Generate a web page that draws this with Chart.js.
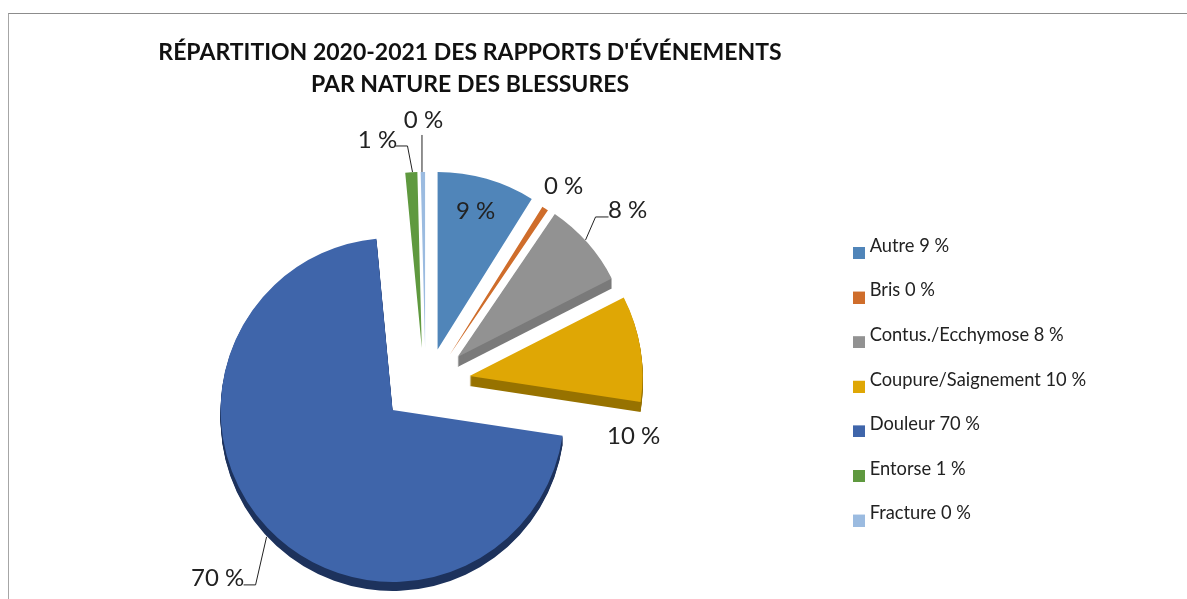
<!DOCTYPE html>
<html lang="fr">
<head>
<meta charset="utf-8">
<title>Répartition 2020-2021</title>
<script src="https://cdn.jsdelivr.net/npm/chart.js@4"></script>
<style>
  html, body { margin: 0; padding: 0; background: #fff; overflow: hidden; }
  #frame { position: absolute; left: 8px; top: 13px; right: 0; bottom: 0;
           border-top: 1px solid #8c8c8c; border-left: 1px solid #a6a6a6; }
  #chart { position: absolute; left: 0; top: 0; }
</style>
</head>
<body>
<div id="frame"></div>
<canvas id="chart" width="1187" height="599"></canvas>
<script>
// ─── Data ───────────────────────────────────────────────────────────────────
const TITLE_LINES = ["RÉPARTITION 2020-2021 DES RAPPORTS D'ÉVÉNEMENTS", 'PAR NATURE DES BLESSURES'];
const CATEGORIES = ['Autre', 'Bris', 'Contus./Ecchymose', 'Coupure/Saignement', 'Douleur', 'Entorse', 'Fracture'];
const VALUES = [8.9, 0.6, 8, 9.9, 71.1, 1.1, 0.4];
const PCT_LABELS = ['9 %', '0 %', '8 %', '10 %', '70 %', '1 %', '0 %'];

// ─── Styling ────────────────────────────────────────────────────────────────
const FACE_COLORS = ['#5085b9', '#cf6d2b', '#929292', '#dfa705', '#3f65aa', '#5f993f', '#9bbbe0'];
const SIDE_COLORS = ['#3c6690', '#9c5220', '#7a7a7a', '#977200', '#1d325c', '#45702e', '#7692b2'];
// How far each slice is pulled out of the pie [dx, dy], and its radius:
// the 3D projection of the original makes these differ a little per slice.
const EXPLODE = [[14, -36.5], [26, -31], [34, -29], [46, -10], [-31, 24], [-1.8, -38], [1.5, -38]];
const SLICE_RADIUS = [177.5, 175, 173, 173, 172, 176, 176];
const DEPTH = [0, 0, 10, 10, 9, 0, 0];          // px of visible side wall
const BASE_RADIUS = 173;
const FONT = 'Lato, "Noto Sans", sans-serif';

// Label centre, relative to the middle of the slice's outer edge.
const LABEL_SHIFT = [[-11, 32], [18.4, -22.3], [40.2, -32.6], [-6.8, 87.7], [-50, 49.8], [-33.8, -32.3], [0.6, -51.3]];
// Leader polylines, same reference point.
const LEADERS = [
  null,
  null,
  [[-1.8, -2.6], [8.2, -25.6], [21.2, -25.6]],
  null,
  [[-1, 8.8], [-12, 56.8], [-24, 56.8]],
  [[1.2, -0.3], [-3.8, -26.3], [-15.8, -26.3]],
  [[-0.9, 0], [-0.9, -37]],
];

// ─── Helpers ────────────────────────────────────────────────────────────────
function outerMid(arc) {
  const mid = (arc.startAngle + arc.endAngle) / 2;
  return { x: arc.x + Math.cos(mid) * arc.outerRadius, y: arc.y + Math.sin(mid) * arc.outerRadius };
}

// Legend swatch sits lower than its text, so the canvas is padded on top.
function legendSwatch(color) {
  const c = document.createElement('canvas');
  c.width = 12;
  c.height = 26;
  const g = c.getContext('2d');
  g.fillStyle = color;
  g.fillRect(0, 14, 12, 12);
  return c;
}

// The offset option also changes a thin arc's shape, so slices are moved
// out here instead.
const explodeSlices = {
  id: 'explodeSlices',
  afterDatasetsUpdate(chart) {
    chart.getDatasetMeta(0).data.forEach((arc, i) => {
      arc.x += EXPLODE[i][0];
      arc.y += EXPLODE[i][1];
      arc.outerRadius = SLICE_RADIUS[i];
    });
  },
};

// Side wall of each slice: copies of the face pushed downwards.
const sideWalls = {
  id: 'sideWalls',
  beforeDatasetsDraw(chart) {
    const { ctx } = chart;
    chart.getDatasetMeta(0).data.forEach((arc, i) => {
      ctx.fillStyle = SIDE_COLORS[i];
      for (let k = 1; k <= DEPTH[i]; k++) {
        ctx.beginPath();
        ctx.moveTo(arc.x, arc.y + k);
        ctx.arc(arc.x, arc.y + k, arc.outerRadius, arc.startAngle, arc.endAngle);
        ctx.closePath();
        ctx.fill();
      }
    });
  },
};

const pctLabels = {
  id: 'pctLabels',
  afterDatasetsDraw(chart) {
    const { ctx } = chart;
    ctx.save();
    ctx.font = '24px ' + FONT;
    ctx.fillStyle = '#222';
    ctx.strokeStyle = '#222';
    ctx.lineWidth = 1;
    ctx.textAlign = 'center';
    ctx.textBaseline = 'middle';
    chart.getDatasetMeta(0).data.forEach((arc, i) => {
      const p = outerMid(arc);
      if (LEADERS[i]) {
        ctx.beginPath();
        LEADERS[i].forEach(([dx, dy], k) => {
          if (k === 0) ctx.moveTo(p.x + dx, p.y + dy);
          else ctx.lineTo(p.x + dx, p.y + dy);
        });
        ctx.stroke();
      }
      ctx.fillText(PCT_LABELS[i], p.x + LABEL_SHIFT[i][0], p.y + LABEL_SHIFT[i][1]);
    });
    ctx.restore();
  },
};

// Title is centred over the plot and the legend starts higher than the
// layout engine would put them.
const placeBoxes = {
  id: 'placeBoxes',
  afterLayout(chart) {
    chart.titleBlock.left = 158;
    chart.titleBlock.right = 782;
    chart.legend.left = 831.2;
    chart.legend.top = 210.5;
  },
};

new Chart(document.getElementById('chart'), {
  type: 'pie',
  data: {
    labels: CATEGORIES.map((c, i) => c + ' ' + PCT_LABELS[i]),
    datasets: [{
      data: VALUES,
      backgroundColor: FACE_COLORS,
      borderWidth: 0,
      clip: false,
    }],
  },
  plugins: [explodeSlices, sideWalls, pctLabels, placeBoxes],
  options: {
    responsive: false,
    animation: false,
    radius: BASE_RADIUS,
    layout: { padding: { left: 0, right: 75, top: 0, bottom: 0 } },
    plugins: {
      tooltip: { enabled: false },
      title: {
        display: true,
        text: TITLE_LINES,
        color: '#111',
        font: { family: FONT, size: 23, weight: 'bold', lineHeight: 1.39 },
        padding: { top: 37, bottom: 72 },
      },
      legend: {
        position: 'right',
        align: 'start',
        labels: {
          usePointStyle: true,
          boxWidth: 3,
          padding: 26.3,
          color: '#222',
          font: { family: FONT, size: 18.3 },
          generateLabels(chart) {
            return chart.data.labels.map((text, i) => ({
              text,
              pointStyle: legendSwatch(FACE_COLORS[i]),
              fillStyle: FACE_COLORS[i],
              strokeStyle: FACE_COLORS[i],
              lineWidth: 0,
              fontColor: '#222',
              index: i,
            }));
          },
        },
      },
    },
  },
});
</script>
</body>
</html>
